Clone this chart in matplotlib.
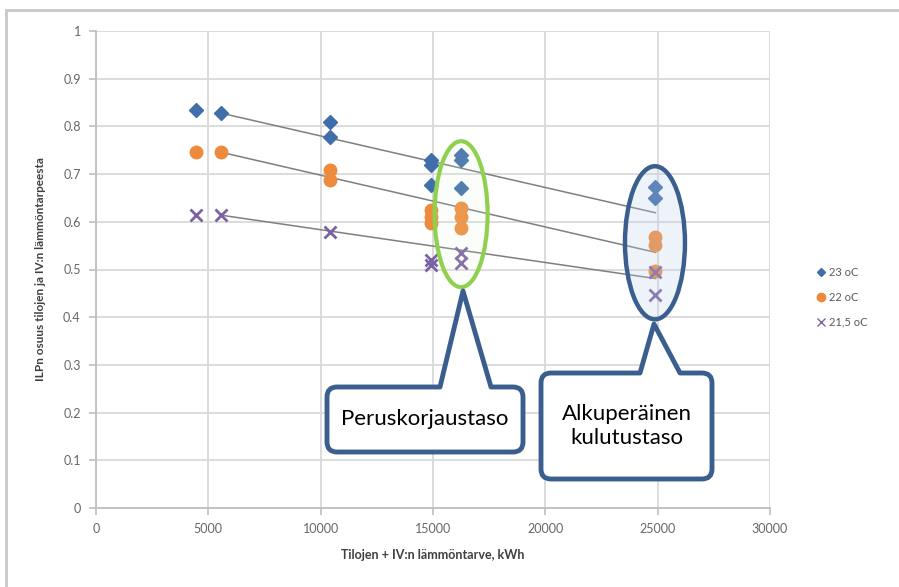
import matplotlib
matplotlib.use('Agg')
import matplotlib.pyplot as plt
from matplotlib.patches import Ellipse, PathPatch, Rectangle
from matplotlib.path import Path
from matplotlib.lines import Line2D

plt.rcParams['font.family'] = ['Lato', 'DejaVu Sans']

# measured points, heat demand (kWh) vs share of heat pump
x_23 = [4450, 5550, 10400, 10400, 14900, 14900, 14900, 16250, 16250, 16250, 24900, 24900]
y_23 = [0.834, 0.828, 0.809, 0.778, 0.730, 0.719, 0.677, 0.740, 0.730, 0.671, 0.673, 0.650]

x_22 = [4450, 5550, 10400, 10400, 14900, 14900, 14900, 16250, 16250, 16250, 24900, 24900, 24900]
y_22 = [0.746, 0.746, 0.709, 0.688, 0.625, 0.610, 0.597, 0.629, 0.610, 0.587, 0.568, 0.551, 0.497]

x_215 = [4450, 5550, 10400, 14900, 14900, 16250, 16250, 24900, 24900]
y_215 = [0.614, 0.614, 0.579, 0.520, 0.509, 0.535, 0.514, 0.495, 0.447]

# trend lines
trend_x = [5550, 24900]
trend_23 = [0.828, 0.619]
trend_22 = [0.746, 0.536]
trend_215 = [0.614, 0.481]

labels = ['23 oC', '22 oC', '21,5 oC']
c_blue = '#3F6EAA'
c_orange = '#EE8A3C'
c_purple = '#7B62A3'
c_box = '#3A5F8E'

W, H = 899, 587
fig = plt.figure(figsize=(W / 100, H / 100), dpi=100)
ax = fig.add_axes([96 / W, 1 - 508 / H, (770 - 96) / W, (508 - 31) / H])

# outer frame
fig.add_artist(Rectangle((6 / W, -0.1), 1.2, (H - 10) / H + 0.1, transform=fig.transFigure,
                         fill=False, edgecolor='#C8C8C8', lw=2))

ax.set_xlim(0, 30000)
ax.set_ylim(0, 1)
ax.set_xticks(range(0, 30001, 5000))
ax.set_yticks([i / 10 for i in range(11)])
ax.set_yticklabels(['0', '0.1', '0.2', '0.3', '0.4', '0.5', '0.6', '0.7', '0.8', '0.9', '1'])
ax.grid(True, color='#D9D9D9', lw=1.3)
ax.set_axisbelow(True)
for s in ['top', 'right']:
    ax.spines[s].set_visible(False)
for s in ['left', 'bottom']:
    ax.spines[s].set_color('#BFBFBF')
    ax.spines[s].set_linewidth(1.3)
ax.tick_params(colors='#BFBFBF', labelcolor='#666666', labelsize=9, length=5, width=1.2, pad=6)

ax.plot(trend_x, trend_23, color='#7F7F7F', lw=1.1, zorder=2)
ax.plot(trend_x, trend_22, color='#7F7F7F', lw=1.1, zorder=2)
ax.plot(trend_x, trend_215, color='#7F7F7F', lw=1.1, zorder=2)

ax.plot(x_23, y_23, 'D', color=c_blue, ms=7, ls='none', zorder=3)
ax.plot(x_22, y_22, 'o', color=c_orange, ms=9, ls='none', zorder=3)
ax.plot(x_215, y_215, 'x', color=c_purple, ms=9, mew=2, ls='none', zorder=4)

ax.set_xlabel('Tilojen + IV:n lämmöntarve, kWh', fontsize=9, fontweight='bold', color='#404040', labelpad=10)
ax.set_ylabel('ILPn osuus tilojen ja IV:n lämmöntarpeesta', fontsize=8.5, fontweight='bold',
              color='#404040', labelpad=12)

# highlight ellipses
ax.add_patch(Ellipse((16250, 0.616), 2360, 0.306, facecolor=(0.88, 0.96, 0.84, 0.12),
                     edgecolor='#8FD14F', lw=3, zorder=5))
ax.add_patch(Ellipse((24880, 0.556), 2670, 0.321, facecolor=(0.75, 0.82, 0.92, 0.25),
                     edgecolor=c_box, lw=3.2, zorder=5))

handles = [Line2D([], [], marker='D', color=c_blue, ls='none', ms=4),
           Line2D([], [], marker='o', color=c_orange, ls='none', ms=6),
           Line2D([], [], marker='x', color=c_purple, ls='none', ms=6, mew=1)]
fig.legend(handles, labels, loc='upper left', bbox_to_anchor=(808 / W, 1 - 257 / H), frameon=False,
           fontsize=8, labelcolor='#595959', handlelength=0.6, handletextpad=0.4, labelspacing=1.25)


def callout(x0, y0, x1, y1, bx0, bx1, tip, r=10):
    pts = [(x0 + r, y0), (bx0, y0), tip, (bx1, y0), (x1 - r, y0),
           (x1, y0), (x1, y0 + r), (x1, y1 - r), (x1, y1), (x1 - r, y1),
           (x0 + r, y1), (x0, y1), (x0, y1 - r), (x0, y0 + r), (x0, y0), (x0 + r, y0)]
    codes = [Path.MOVETO, Path.LINETO, Path.LINETO, Path.LINETO, Path.LINETO,
             Path.CURVE3, Path.CURVE3, Path.LINETO, Path.CURVE3, Path.CURVE3,
             Path.LINETO, Path.CURVE3, Path.CURVE3, Path.LINETO, Path.CURVE3, Path.CURVE3]
    verts = [(px / W, 1 - py / H) for px, py in pts]
    verts.append(verts[0])
    codes.append(Path.CLOSEPOLY)
    fig.add_artist(PathPatch(Path(verts, codes), transform=fig.transFigure, facecolor='white',
                             edgecolor=c_box, lw=3.5, joinstyle='round', zorder=10))


callout(327, 387, 523, 452, 440, 491, (463, 291))
fig.text(425 / W, 1 - 419 / H, 'Peruskorjaustaso', ha='center', va='center', fontsize=16, zorder=11)

callout(541, 373, 712, 479, 640, 680, (654, 324))
fig.text(627 / W, 1 - 426 / H, 'Alkuperäinen\nkulutustaso', ha='center', va='center', fontsize=16,
         linespacing=1.3, zorder=11)

fig.savefig('out.png', dpi=100)
